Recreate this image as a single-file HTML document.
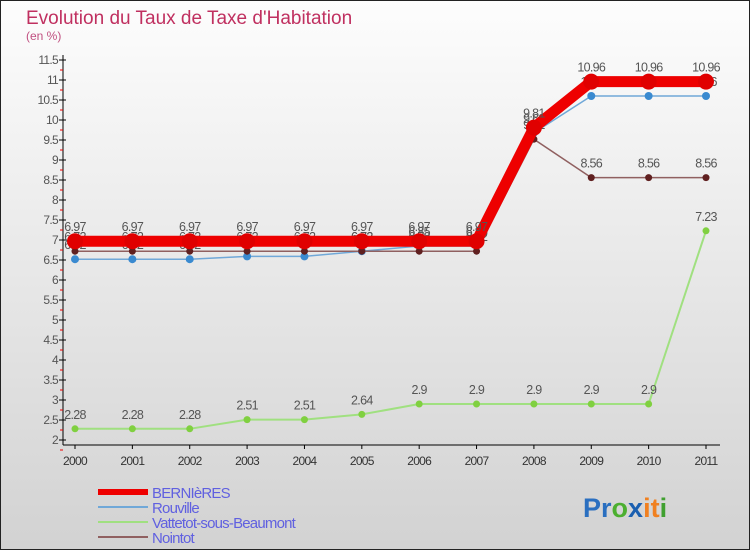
<!DOCTYPE html>
<html><head><meta charset="utf-8"><style>
body{margin:0;width:750px;height:550px;overflow:hidden;font-family:"Liberation Sans",sans-serif}
#wrap{position:absolute;left:0;top:0;width:748px;height:548px;border:1px solid #222;background:linear-gradient(#fdfdfd,#d2d2d2)}
</style></head><body>
<div id="wrap"></div>
<svg id="chart" width="750" height="550" style="position:absolute;left:0;top:0">
<text x="26" y="24" font-size="19" fill="#c03060">Evolution du Taux de Taxe d'Habitation</text>
<text x="26" y="40" font-size="12" fill="#c05080">(en %)</text>
<g id="axes"></g><g id="series"></g><g id="legend"></g>
<text x="583" y="517" font-size="27" font-weight="bold"><tspan fill="#2a6fc0">Pr</tspan><tspan fill="#4caf30">o</tspan><tspan fill="#1a5fb0">x</tspan><tspan fill="#f08020">it</tspan><tspan fill="#40a030">i</tspan></text>
</svg>
<script>
const years=[2000,2001,2002,2003,2004,2005,2006,2007,2008,2009,2010,2011];
const yTicks=[2,2.5,3,3.5,4,4.5,5,5.5,6,6.5,7,7.5,8,8.5,9,9.5,10,10.5,11,11.5];
const bernieres=[6.97,6.97,6.97,6.97,6.97,6.97,6.97,6.97,9.81,10.96,10.96,10.96];
const rouville=[6.52,6.52,6.52,6.59,6.59,6.72,6.85,6.85,9.68,10.6,10.6,10.6];
const vattetot=[2.28,2.28,2.28,2.51,2.51,2.64,2.9,2.9,2.9,2.9,2.9,7.23];
const nointot=[6.72,6.72,6.72,6.72,6.72,6.72,6.72,6.72,9.52,8.56,8.56,8.56];
const NS='http://www.w3.org/2000/svg';
const X=i=>75+i*(706-75)/11;
const Y=v=>440-(v-2)*40;
function mk(p,t,a){const e=document.createElementNS(NS,t);for(const k in a)e.setAttribute(k,a[k]);p.appendChild(e);return e;}
const ax=document.getElementById('axes');
let l=mk(ax,'line',{x1:63,y1:55,x2:63,y2:445,stroke:'#000'});


l=mk(ax,'line',{x1:63,y1:445,x2:720,y2:445,stroke:'#000'});


yTicks.forEach(v=>{
 mk(ax,'line',{x1:59,x2:66,y1:Y(v),y2:Y(v),stroke:'#000'});
 mk(ax,'line',{x1:60,x2:63,y1:Y(v)+10,y2:Y(v)+10,stroke:'#e00'});
 const t=mk(ax,'text',{x:58,y:Y(v)+4,'font-size':12,fill:'#555','text-anchor':'end','letter-spacing':'-0.7'});
 t.textContent=String(v);
 
 
});
years.forEach((y,i)=>{
 mk(ax,'line',{x1:X(i),x2:X(i),y1:445,y2:449,stroke:'#000'});
 const t=mk(ax,'text',{x:X(i),y:465,'font-size':12,fill:'#333','text-anchor':'middle','letter-spacing':'-0.7'});
 t.textContent=y;
 
 
});
const S=document.getElementById('series');
const defs=[
 {d:vattetot,c:'#a0e080',w:2,r:3.5,f:'#80d040',n:'vattetot'},
 {d:rouville,c:'#70a8d8',w:1.5,r:4,f:'#3a8ad0',n:'rouville'},
 {d:nointot,c:'#906060',w:1.5,r:3.5,f:'#602020',n:'nointot'},
 {d:bernieres,c:'#ee0000',w:11,r:8,f:'#e00000',n:'bernieres'}];
defs.forEach(s=>{
 const p=mk(S,'polyline',{points:s.d.map((v,i)=>X(i)+','+Y(v)).join(' '),fill:'none',stroke:s.c,'stroke-width':s.w});
 
 
 s.d.forEach((v,i)=>{
  const c=mk(S,'circle',{cx:X(i),cy:Y(v),r:s.r,fill:s.f});
  
  
  const t=mk(S,'text',{x:X(i),y:Y(v)-10,'font-size':12.5,fill:'#555','text-anchor':'middle','letter-spacing':'-0.7'});
  t.textContent=String(v);
  
  
 });
});
const L=document.getElementById('legend');
const items=[['BERNIèRES','#ee0000',6],['Rouville','#70a8d8',2],['Vattetot-sous-Beaumont','#a0e080',2],['Nointot','#906060',2]];
items.forEach((it,i)=>{
 const y=492+i*15;
 mk(L,'line',{x1:98,x2:148,y1:y,y2:y,stroke:it[1],'stroke-width':it[2]});
 const t=mk(L,'text',{x:152,y:y+6,'font-size':15,fill:'#6060e0','letter-spacing':'-0.8'});
 t.textContent=it[0];
 
 
});
</script>
</body></html>
